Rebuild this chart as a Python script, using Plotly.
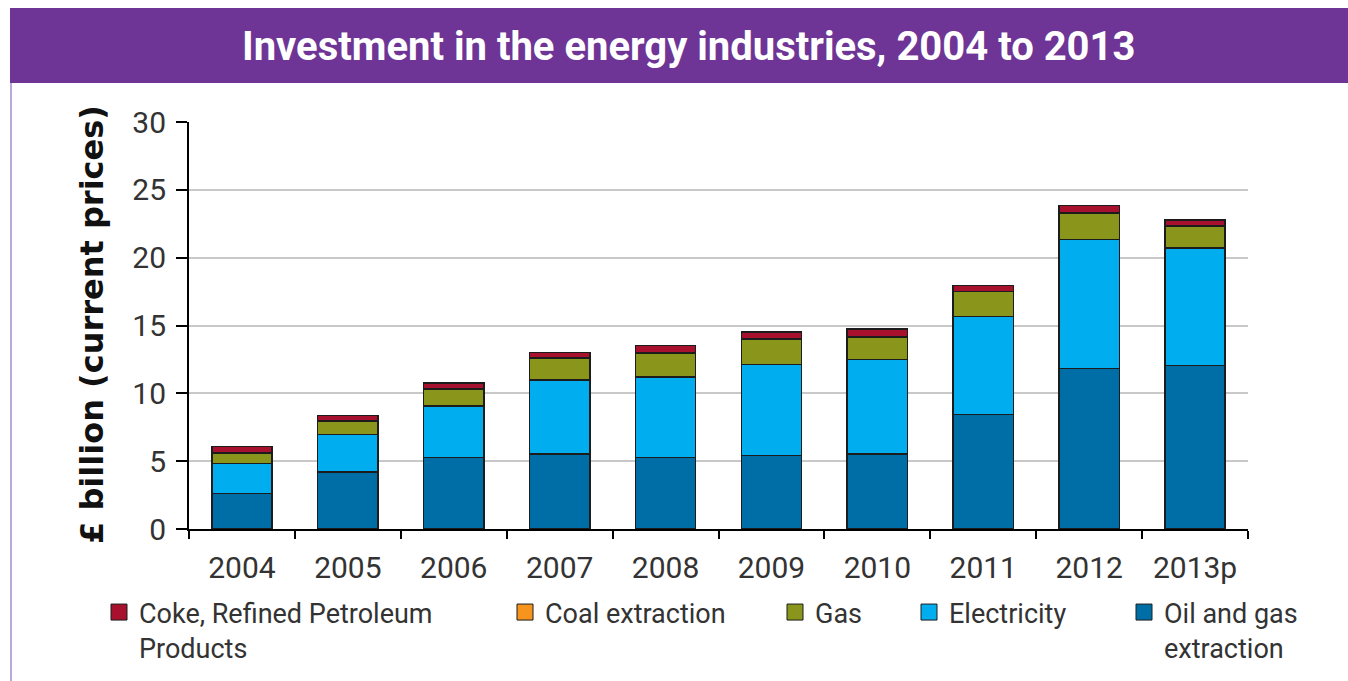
import plotly.graph_objects as go

# Investment by industry, £ billion (current prices)
years = ["2004", "2005", "2006", "2007", "2008", "2009", "2010", "2011", "2012", "2013p"]
oil_gas = [2.63, 4.22, 5.26, 5.53, 5.28, 5.40, 5.53, 8.45, 11.84, 12.04]
electricity = [2.21, 2.76, 3.80, 5.45, 5.94, 6.74, 6.97, 7.20, 9.51, 8.69]
gas = [0.78, 0.98, 1.23, 1.64, 1.77, 1.84, 1.63, 1.84, 1.96, 1.60]
coal = [0.02, 0.02, 0.02, 0.02, 0.02, 0.02, 0.02, 0.02, 0.02, 0.02]
coke = [0.43, 0.37, 0.47, 0.38, 0.52, 0.52, 0.61, 0.45, 0.52, 0.42]
y_ticks = [0, 5, 10, 15, 20, 25, 30]

W, H = 1348, 681
L, R, T, B = 189, 100, 122, 152
PW, PH = W - L - R, H - T - B


def px(x):
    return (x - L) / PW


def py(y):
    return (H - B - y) / PH


FONT = "Roboto, 'DejaVu Sans', sans-serif"
EDGE = "#1c1c1c"

series = [
    ("Oil and gas<br>extraction", oil_gas, "#006ea6"),
    ("Electricity", electricity, "#00aeef"),
    ("Gas", gas, "#8a961b"),
    ("Coal extraction", coal, "#f7941d"),
    ("Coke, Refined Petroleum<br>Products", coke, "#a8112d"),
]

fig = go.Figure()
for name, vals, col in series:
    fig.add_trace(go.Bar(
        x=years, y=vals, name=name, marker_color=col,
        marker_line=dict(color=EDGE, width=1.5), showlegend=False,
    ))

# legend entries, each placed in its own legend box
legend_left = {
    "Coke, Refined Petroleum<br>Products": 121,
    "Coal extraction": 527,
    "Gas": 797,
    "Electricity": 931,
    "Oil and gas<br>extraction": 1146,
}
order = ["Coke, Refined Petroleum<br>Products", "Coal extraction", "Gas",
         "Electricity", "Oil and gas<br>extraction"]
colors = {n: c for n, _, c in series}
legend_layout = {}
for i, name in enumerate(order):
    key = "legend" if i == 0 else f"legend{i + 1}"
    fig.add_trace(go.Scatter(
        x=[None], y=[None], mode="markers", name=name,
        marker=dict(symbol="square", size=16, color=colors[name],
                    line=dict(color=EDGE, width=1)),
        legend=key, showlegend=True,
    ))
    legend_layout[key] = dict(
        x=px(legend_left[name] - 22), y=py(588), xanchor="left", yanchor="top",
        orientation="v", bgcolor="rgba(0,0,0,0)", valign="top",
        font=dict(family=FONT, size=27, color="#333333"),
        itemsizing="trace",
    )

fig.update_layout(
    width=W, height=H,
    margin=dict(l=L, r=R, t=T, b=B, autoexpand=False),
    barmode="stack", bargap=0.43,
    paper_bgcolor="white", plot_bgcolor="white",
    font=dict(family=FONT, color="#333333"),
    xaxis=dict(
        range=[-0.5, 9.5], showline=True, linecolor="black", linewidth=2,
        ticks="outside", tickson="boundaries", ticklen=8, tickwidth=2, tickcolor="black",
        tickfont=dict(size=30, color="#333333"), showgrid=False,
        ticklabelstandoff=11,
    ),
    yaxis=dict(
        range=[0, 30], tickvals=y_ticks, showline=True, linecolor="black", linewidth=2,
        ticks="outside", ticklen=11, tickwidth=2, tickcolor="black",
        tickfont=dict(size=30, color="#333333"),
        showgrid=True, gridcolor="#c8c8c8", gridwidth=2, zeroline=False,
        ticklabelstandoff=4,
    ),
    shapes=[
        # purple header band
        dict(type="rect", xref="paper", yref="paper", x0=px(10), x1=px(1360),
             y0=py(83), y1=py(8), fillcolor="#6e3596", line=dict(width=0), layer="below"),
        # panel border
        dict(type="line", xref="paper", yref="paper", x0=px(11), x1=px(11),
             y0=py(83), y1=py(700), line=dict(color="#b9a9d6", width=2)),
    ],
    annotations=[
        dict(text="<b>Investment in the energy industries, 2004 to 2013</b>",
             xref="paper", yref="paper", x=px(688), y=py(46), xanchor="center",
             yanchor="middle", showarrow=False,
             font=dict(family=FONT, size=40, color="white")),
        dict(text="<b>£ billion (current prices)</b>",
             xref="paper", yref="paper", x=px(92), y=py(325), xanchor="center",
             yanchor="middle", textangle=-90, showarrow=False,
             font=dict(family="'DejaVu Sans', sans-serif", size=32, color="#111111")),
    ],
    **legend_layout,
)

fig.write_html("out.html")
